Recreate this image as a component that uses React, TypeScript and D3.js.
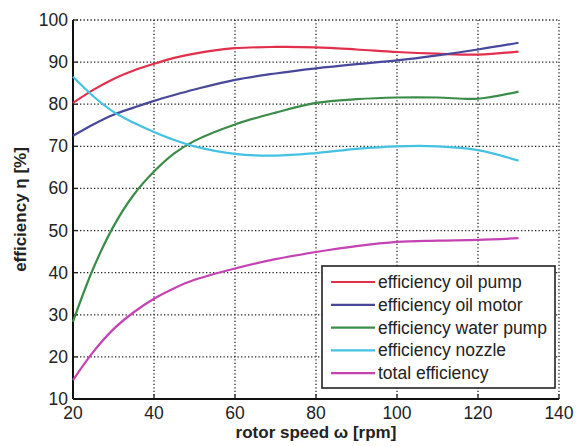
import * as d3 from "d3";

// rotor speed [rpm] at which the curves were read
const rpm = [20, 25, 30, 35, 40, 45, 50, 60, 70, 80, 90, 100, 110, 120, 130];

const oilPump = [80.3, 83.4, 86, 88, 89.6, 91, 92, 93.3, 93.6, 93.5, 93, 92.4, 92, 91.8, 92.5];
const oilMotor = [72.5, 75.2, 77.5, 79.2, 80.8, 82.2, 83.5, 85.8, 87.3, 88.5, 89.5, 90.4, 91.6, 93, 94.6];
const waterPump = [28.4, 41, 51, 58.5, 64, 68.3, 71.3, 75.2, 78, 80.3, 81.2, 81.6, 81.6, 81.3, 83];
const nozzle = [86.5, 81.9, 78.2, 75.6, 73.4, 71.5, 70, 68.2, 67.8, 68.4, 69.4, 70, 70, 69.1, 66.6];
const total = [14.5, 21.2, 26.6, 30.6, 33.8, 36.3, 38.3, 41, 43.2, 44.9, 46.3, 47.3, 47.6, 47.8, 48.2];

const seriesNames = [
  "efficiency oil pump",
  "efficiency oil motor",
  "efficiency water pump",
  "efficiency nozzle",
  "total efficiency",
];
const seriesColors = ["#e2304c", "#48489a", "#3a8c48", "#44c2e2", "#c442b2"];
const seriesValues = [oilPump, oilMotor, waterPump, nozzle, total];

const xTicks = [20, 40, 60, 80, 100, 120, 140];
const yTicks = [10, 20, 30, 40, 50, 60, 70, 80, 90, 100];

const W = 576;
const H = 446;
const margin = { top: 20, right: 17, bottom: 47, left: 73 };

export default function App() {
  const x = d3.scaleLinear().domain([20, 140]).range([margin.left, W - margin.right]);
  const y = d3.scaleLinear().domain([10, 100]).range([H - margin.bottom, margin.top]);

  const line = d3
    .line<number>()
    .x((_, i) => x(rpm[i]))
    .y((d) => y(d))
    .curve(d3.curveCatmullRom.alpha(0.5));

  const x0 = x(20), x1 = x(140), y0 = y(10), y1 = y(100);
  const font = "'Liberation Sans', Arial, Helvetica, sans-serif";
  const grid = { stroke: "#222", strokeWidth: 1.3, strokeDasharray: "1.3,2.2" };

  // legend placement
  const lg = { x: 322, y: 266, w: 233, h: 122, rowY: 282, rowH: 22.8 };

  return (
    <svg
      width={W}
      height={H}
      style={{ position: "absolute", left: 0, top: 0, background: "#fff" }}
      fontFamily={font}
    >
      {/* grid */}
      {xTicks.slice(1).map((t) => (
        <line key={"gx" + t} x1={x(t)} x2={x(t)} y1={y0} y2={y1} {...grid} />
      ))}
      {yTicks.slice(1).map((t) => (
        <line key={"gy" + t} x1={x0} x2={x1} y1={y(t)} y2={y(t)} {...grid} />
      ))}

      {/* ticks pointing inwards */}
      {xTicks.map((t) => (
        <g key={"tx" + t}>
          <line x1={x(t)} x2={x(t)} y1={y0} y2={y0 - 5} stroke="#222" strokeWidth={1.3} />
          <text x={x(t)} y={y0 + 20} textAnchor="middle" fontSize={17.5} fill="#222">
            {t}
          </text>
        </g>
      ))}
      {yTicks.map((t) => (
        <g key={"ty" + t}>
          <line x1={x0} x2={x0 + 5} y1={y(t)} y2={y(t)} stroke="#222" strokeWidth={1.3} />
          <text x={x0 - 5} y={y(t) + 6} textAnchor="end" fontSize={17.5} fill="#222">
            {t}
          </text>
        </g>
      ))}

      {/* solid left and bottom axes */}
      <line x1={x0} x2={x0} y1={y0} y2={y1} stroke="#111" strokeWidth={2} />
      <line x1={x0} x2={x1} y1={y0} y2={y0} stroke="#111" strokeWidth={2} />

      {/* curves */}
      {seriesValues.map((vals, i) => (
        <path key={seriesNames[i]} d={line(vals) ?? ""} fill="none" stroke={seriesColors[i]} strokeWidth={2.2} />
      ))}

      {/* legend */}
      <rect x={lg.x} y={lg.y} width={lg.w} height={lg.h} fill="#fff" stroke="#222" strokeWidth={1.6} />
      {seriesNames.map((name, i) => {
        const ry = lg.rowY + i * lg.rowH;
        return (
          <g key={"lg" + name}>
            <line x1={331} x2={375} y1={ry} y2={ry} stroke={seriesColors[i]} strokeWidth={2.2} />
            <text x={378} y={ry + 6} fontSize={17.5} fill="#222">
              {name}
            </text>
          </g>
        );
      })}

      {/* axis labels */}
      <text
        x={x((20 + 140) / 2)}
        y={438}
        textAnchor="middle"
        fontSize={17}
        fontWeight="bold"
        fill="#222"
      >
        rotor speed ω [rpm]
      </text>
      <text
        transform={`translate(26, ${(y0 + y1) / 2}) rotate(-90)`}
        textAnchor="middle"
        fontSize={17}
        fontWeight="bold"
        fill="#222"
      >
        efficiency η [%]
      </text>
    </svg>
  );
}
